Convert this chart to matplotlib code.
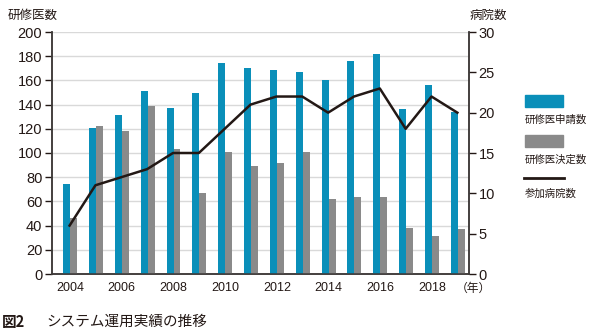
import matplotlib
matplotlib.use("Agg")
import matplotlib.pyplot as plt
import numpy as np
from matplotlib.patches import Rectangle
from matplotlib.lines import Line2D

years = [2004, 2005, 2006, 2007, 2008, 2009, 2010, 2011, 2012, 2013, 2014, 2015, 2016, 2017, 2018, 2019]
applications = [74, 121, 131, 151, 137, 150, 174, 170, 169, 167, 160, 176, 182, 136, 156, 134]
decisions = [46, 122, 118, 139, 103, 67, 101, 89, 92, 101, 62, 64, 64, 38, 31, 37]
hospitals = [6, 11, 12, 13, 15, 15, 18, 21, 22, 22, 20, 22, 23, 18, 22, 20]
xtick_years = [2004, 2006, 2008, 2010, 2012, 2014, 2016, 2018]
legend_labels = ["研修医申請数", "研修医決定数", "参加病院数"]

blue = "#0A8FB9"
gray = "#8A8A8A"
black = "#231815"
jp = ["Noto Sans CJK JP", "DejaVu Sans"]
num = ["Liberation Sans", "DejaVu Sans"]

W, H = 595, 336
fig = plt.figure(figsize=(W / 100, H / 100), dpi=100)
ax = fig.add_axes([52 / W, 1 - 274 / H, (469 - 52) / W, (274 - 32) / H])
ax2 = ax.twinx()

x = np.array(years, dtype=float)
bw = 0.27
ax.bar(x - bw / 2, applications, width=bw, color=blue, zorder=3, linewidth=0)
ax.bar(x + bw / 2, decisions, width=bw, color=gray, zorder=3, linewidth=0)
ax2.plot(x - 0.02, hospitals, color=black, linewidth=1.8, zorder=4)

ax.set_xlim(2003.3, 2019.43)
ax.set_ylim(0, 200)
ax2.set_ylim(0, 30)
ax.set_yticks(np.arange(0, 201, 20))
ax2.set_yticks(np.arange(0, 31, 5))
ax.set_xticks(xtick_years)
ax.set_xticklabels([str(y) for y in xtick_years], fontfamily=num, fontsize=9)
ax.tick_params(axis="x", length=0, pad=6, colors="#231815")
ax.tick_params(axis="y", length=5, width=1, colors="#231815", labelsize=10.5, pad=2)
ax2.tick_params(axis="y", length=5, width=1, colors="#231815", labelsize=10.5, pad=2)
for lab in ax.get_yticklabels() + ax2.get_yticklabels():
    lab.set_fontfamily(num)

ax.grid(axis="y", color="#D9D9D9", linewidth=1, zorder=0)
ax.set_axisbelow(True)
for a in (ax, ax2):
    a.spines["top"].set_visible(False)
    for s in ("left", "right", "bottom"):
        a.spines[s].set_color("#3E3A39")
        a.spines[s].set_linewidth(1.1)
ax2.set_zorder(ax.get_zorder() + 1)
ax2.patch.set_visible(False)

fig.text(8 / W, 1 - 15 / H, "研修医数", fontfamily=jp, fontsize=9, va="center", ha="left", color="#231815")
fig.text(470 / W, 1 - 15 / H, "病院数", fontfamily=jp, fontsize=9, va="center", ha="left", color="#231815")
fig.text(473 / W, 1 - 288 / H, "（年）", fontfamily=jp, fontsize=8.5, va="center", ha="center", color="#231815")
fig.text(2 / W, 1 - 322 / H, "図2", fontfamily=jp, fontsize=10.5, fontweight="bold", va="center", ha="left", color="#231815")
fig.text(46 / W, 1 - 322 / H, "システム運用実績の推移", fontfamily=jp, fontsize=10.5, va="center", ha="left", color="#231815")

# legend
fig.patches.append(Rectangle((525 / W, 1 - 107 / H), 38 / W, 12 / H, transform=fig.transFigure, color=blue))
fig.text(525 / W, 1 - 120 / H, legend_labels[0], fontfamily=jp, fontsize=7.5, va="center", ha="left", color="#231815")
fig.patches.append(Rectangle((525 / W, 1 - 147 / H), 38 / W, 12 / H, transform=fig.transFigure, color=gray))
fig.text(525 / W, 1 - 160 / H, legend_labels[1], fontfamily=jp, fontsize=7.5, va="center", ha="left", color="#231815")
fig.lines.append(Line2D([524 / W, 564 / W], [1 - 178 / H, 1 - 178 / H], transform=fig.transFigure, color=black, linewidth=2))
fig.text(525 / W, 1 - 194 / H, legend_labels[2], fontfamily=jp, fontsize=7.5, va="center", ha="left", color="#231815")

fig.savefig("out.png", dpi=100)
